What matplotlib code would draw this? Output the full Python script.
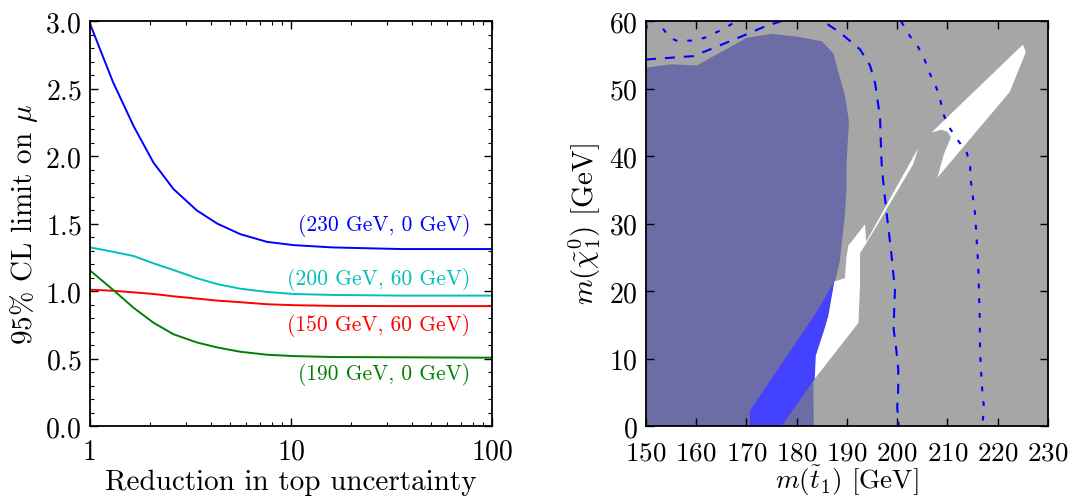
import matplotlib
matplotlib.use("Agg")
import matplotlib.pyplot as plt
from matplotlib.ticker import MultipleLocator, LogLocator, NullFormatter

plt.rcParams['font.family'] = 'serif'
plt.rcParams['font.serif'] = ['cmr10', 'DejaVu Serif']
plt.rcParams['mathtext.fontset'] = 'cm'
plt.rcParams['axes.formatter.use_mathtext'] = True
plt.rcParams['lines.scale_dashes'] = False

# left panel: limit vs reduction factor
reduction = [1, 1.3, 1.65, 2.07, 2.6, 3.4, 4.3, 5.6, 7.6, 10.3, 16, 35, 100]
mu_230_0 = [2.98, 2.55, 2.22, 1.951, 1.756, 1.597, 1.499, 1.421, 1.364, 1.340, 1.323, 1.311, 1.311]
mu_200_60 = [1.323, 1.291, 1.259, 1.205, 1.156, 1.095, 1.051, 1.017, 0.993, 0.978, 0.971, 0.966, 0.966]
mu_150_60 = [1.010, 1.002, 0.990, 0.978, 0.961, 0.944, 0.929, 0.917, 0.902, 0.895, 0.890, 0.888, 0.888]
mu_190_0 = [1.152, 1.010, 0.875, 0.765, 0.680, 0.619, 0.582, 0.550, 0.528, 0.518, 0.511, 0.509, 0.506]
curve_labels = ['(230 GeV, 0 GeV)', '(200 GeV, 60 GeV)', '(150 GeV, 60 GeV)', '(190 GeV, 0 GeV)']
curve_colors = ['b', 'c', 'r', 'g']
label_y = [1.49, 1.095, 0.753, 0.386]

# right panel: mass plane regions
blue_x = [150, 183.4, 183.3, 186.3, 187.5, 187.9, 188.6, 189.1, 189.6, 189.9, 189.9, 190.2, 190.4,
          189.6, 188.9, 187.3, 185.0, 180.0, 175.0, 170.0, 160.1, 155.1, 150]
blue_y = [0, 0, 6.8, 16.3, 21.4, 22.1, 24.6, 28.0, 31.4, 34.8, 38.7, 42.6, 45.1,
          49.0, 50.8, 55.2, 57.0, 57.7, 58.1, 57.5, 53.4, 53.6, 53.1]
bright_x = [170.7, 177.0, 183.6, 183.8, 185.5, 186.3, 187.5, 183.9, 170.7]
bright_y = [0, 0, 7.0, 10.4, 14.3, 16.3, 21.4, 16.8, 2.3]
hole1_x = [183.6, 183.8, 185.5, 186.3, 187.5, 189.6, 189.9, 190.3, 190.9, 193.6, 193.8, 204.2,
           203.2, 195.0, 192.6, 192.6, 192.3]
hole1_y = [7.0, 10.4, 14.3, 16.3, 21.4, 21.9, 25.1, 26.8, 27.3, 29.9, 27.3, 41.2,
           38.8, 28.5, 25.6, 21.0, 15.3]
hole2_x = [206.85, 225.0, 225.6, 222.4, 208.0, 209.3, 210.7, 210.0, 208.8]
hole2_y = [43.5, 56.5, 55.4, 49.5, 36.8, 40.3, 42.8, 43.6, 43.9]
dash_x = [150, 159.4, 163.1, 168.0, 174.0, 177.5, 181.0, 185.0, 188.6, 192.6, 194.6, 195.6, 196.6,
          196.7, 196.9, 197.2, 197.9, 198.8, 199.3, 199.55, 199.4, 199.3, 199.8, 200.2, 200.2, 200.0, 200.3]
dash_y = [54.3, 54.8, 55.9, 57.4, 59.3, 60.1, 60.6, 60.1, 58.3, 55.8, 53.4, 50.8, 45.6,
          42.7, 38.8, 36.3, 31.5, 25.8, 22.0, 20.2, 17.3, 14.3, 11.4, 8.5, 5.5, 2.8, 0]
dot_x = [150, 150.4, 151.8, 153.0, 154.5, 156.0, 159.7, 162.0, 164.5, 166.7, 168.5, 185.0, 200.5,
         202.5, 204.2, 205.5, 206.5, 207.8, 208.6, 209.3, 210.4, 212.0, 213.8, 214.5, 214.6,
         215.5, 216.1, 216.4, 216.5, 216.8, 217.0, 217.3, 216.9]
dot_y = [58.7, 60.2, 60.2, 59.3, 57.7, 57.1, 57.1, 57.6, 58.5, 59.4, 60.3, 61.0, 60.3,
         57.8, 56.1, 54.2, 52.2, 50.1, 48.2, 46.0, 44.2, 42.4, 40.6, 38.8, 36.6,
         31.4, 24.1, 16.8, 10.9, 6.7, 4.5, 2.6, 0]
xlim_r = (150, 230)
ylim_r = (0, 60)

fig = plt.figure(figsize=(10.7, 5.02), dpi=100)
ax1 = fig.add_axes([0.0841, 0.1494, 0.3757, 0.8067])
ax2 = fig.add_axes([0.6037, 0.1494, 0.3757, 0.8067])

for y, c in zip([mu_230_0, mu_200_60, mu_150_60, mu_190_0], curve_colors):
    ax1.plot(reduction, y, color=c, lw=1.4)
for lab, c, ly in zip(curve_labels, curve_colors, label_y):
    ax1.text(78, ly, lab, color=c, ha='right', va='center', fontsize=15.5)
ax1.set_xscale('log')
ax1.set_xlim(1, 100)
ax1.set_ylim(0, 3)
ax1.set_xticks([1, 10, 100])
ax1.set_xticklabels(['1', '10', '100'])
ax1.xaxis.set_minor_locator(LogLocator(base=10, subs=range(2, 10)))
ax1.xaxis.set_minor_formatter(NullFormatter())
ax1.yaxis.set_major_locator(MultipleLocator(0.5))
ax1.yaxis.set_minor_locator(MultipleLocator(0.1))
ax1.set_xlabel('Reduction in top uncertainty', fontsize=21, labelpad=3)
ax1.set_ylabel(r'95% CL limit on $\mu$', fontsize=21)

ax2.fill_between(xlim_r, ylim_r[0], ylim_r[1], color='#a6a6a6', lw=0)
ax2.fill(blue_x, blue_y, color='#6c6ca6', lw=0)
ax2.fill(bright_x, bright_y, color='#4242ff', lw=0)
ax2.fill(hole1_x, hole1_y, color='white', lw=0)
ax2.fill(hole2_x, hole2_y, color='white', lw=0)
ax2.plot(dash_x, dash_y, color='b', lw=1.5, dashes=(7.2, 6.5))
ax2.plot(dot_x, dot_y, color='b', lw=1.5, dashes=(3.4, 7.2))
ax2.set_xlim(*xlim_r)
ax2.set_ylim(*ylim_r)
ax2.xaxis.set_major_locator(MultipleLocator(10))
ax2.yaxis.set_major_locator(MultipleLocator(10))
ax2.set_xlabel(r'$m(\tilde{t}_1)$ [GeV]', fontsize=19.5, labelpad=-1)
ax2.set_ylabel(r'$m(\tilde{\chi}_1^0)$ [GeV]', fontsize=21)

for ax in (ax1, ax2):
    for s in ax.spines.values():
        s.set_linewidth(1.3)
    ax.tick_params(which='both', direction='in', top=True, right=True, labelsize=20)
    ax.tick_params(which='major', length=6, width=1)
    ax.tick_params(which='minor', length=3, width=0.8)
    ax.tick_params(axis='x', which='major', pad=9)
    ax.tick_params(axis='y', which='major', pad=6)
ax2.tick_params(axis='x', which='major', pad=10.5, labelsize=19.5)

fig.savefig('out.png', dpi=100)
